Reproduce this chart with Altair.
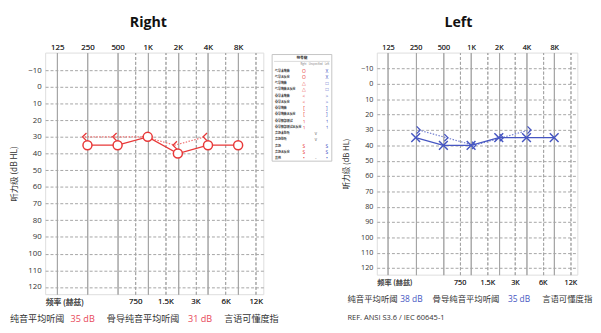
import altair as alt
import pandas as pd

# ---------------- data ----------------
FREQS = [250, 500, 1000, 2000, 4000, 8000]
BONE_FREQS = [250, 500, 1000, 2000, 4000]
RIGHT_AC = [35, 35, 30, 40, 35, 35]
RIGHT_BC = [30, 30, 30, 35, 30]
LEFT_AC = [35, 40, 40, 35, 35, 35]
LEFT_BC = [30, 35, 40, 35, 30]

TOP_TICKS = [125, 250, 500, 1000, 2000, 4000, 8000]
BOTTOM_TICKS = [750, 1500, 3000, 6000, 12000]
DB_TICKS = list(range(-10, 121, 10))

RIGHT_SUMMARY = ["纯音平均听阈", "35 dB", "骨导纯音平均听阈", "31 dB", "言语可懂度指"]
LEFT_SUMMARY = ["纯音平均听阈", "38 dB", "骨导纯音平均听阈", "35 dB", "言语可懂度指"]
REF_TEXT = "REF. ANSI S3.6 / IEC 60645-1"

LEGEND_TITLE = "符号键"
LEGEND_HEADS = ["Right", "Unspecified", "Left"]
LEGEND_LABELS = ["气导未掩蔽", "气导无反应", "气导掩蔽", "气导掩蔽无反应", "骨导未掩蔽",
                 "骨导无反应", "骨导掩蔽", "骨导掩蔽无反应", "骨导额部测试",
                 "骨导额部测试无反应", "声场未助听", "声场助听", "声场", "声场无反应", "其他"]
LEGEND_RIGHT = ["O", "O", "△", "△", "<", "<", "[", "[", "˥", "˥", "", "", "S", "S", "•"]
LEGEND_MID = ["", "", "", "", "", "", "", "", "", "", "∨", "∨", "", "", "-"]
LEGEND_LEFT = ["X", "X", "□", "□", ">", ">", "]", "]", "˦", "˦", "", "", "S", "S", "•"]

# ---------------- styles ----------------
CJK = "Noto Sans CJK SC"
LAT = "Open Sans"
RED = "#e83838"
RED_TXT = "#e8485a"
RED_DOT = "#ee6e6e"
BLUE = "#4656c2"
BLUE_DOT = "#7480d0"
GRID = "#a4a4a4"

X_PATH = "M-1,-1L1,1M-1,1L1,-1"
LT_PATH = "M0,-1L-1,0L0,1"
GT_PATH = "M0,-1L1,0L0,1"

LBL = "datum.value >= 1000 ? (datum.value/1000) + 'K' : '' + datum.value"


def panel(name, ac, bc, color, dotcolor, txtcolor, ac_shape, ac_fill, bc_shape, bc_off,
          w, h, s, summary, sx, sy, title_dx, extra=None):
    xs = alt.Scale(type="log", domain=[94.5, 14280], nice=False)
    ys = alt.Scale(domain=[-20.5, 124.3], reverse=True, nice=False, zero=False)
    top_axis = alt.Axis(orient="top", values=TOP_TICKS, labelExpr=LBL, ticks=False, domain=False,
                        grid=True, gridColor=GRID, gridWidth=1, labelPadding=1,
                        labelFontSize=8 * s, labelFont=LAT, labelColor="#333", title=None)
    bot_axis = alt.Axis(orient="bottom", values=BOTTOM_TICKS, labelExpr=LBL, ticks=False,
                        domain=False, grid=True, gridColor=GRID, gridDash=[3, 2], gridWidth=1,
                        labelPadding=4, labelFontSize=8 * s, labelFont=LAT, labelColor="#333",
                        title="频率 (赫兹)", titleX=0, titleY=9 * s, titleAlign="left",
                        titleBaseline="middle", titleFontWeight="normal", titleFont=CJK,
                        titleFontSize=8 * s, titleColor="#444")
    y_axis = alt.Axis(values=DB_TICKS, ticks=False, domain=False, grid=True, gridDash=[3, 2],
                      gridColor=GRID, gridWidth=1, labelPadding=4, labelFontSize=8 * s,
                      labelFont=LAT, labelColor="#333", title="听力级 (dB HL)", titlePadding=10,
                      titleFont=CJK, titleFontSize=8.5 * s, titleFontWeight="normal",
                      titleColor="#333")

    df_ac = pd.DataFrame({"freq": FREQS, "db": ac})
    df_bc = pd.DataFrame({"freq": BONE_FREQS, "db": bc})

    def yy():
        return alt.Y("db:Q", scale=ys, axis=y_axis)

    bc_line = alt.Chart(df_bc).mark_line(color=dotcolor, strokeWidth=1.2, strokeDash=[1.5, 1.5],
                                         xOffset=bc_off * 3).encode(
        x=alt.X("freq:Q", scale=xs, axis=top_axis), y=yy())
    ac_line = alt.Chart(df_ac).mark_line(color=color, strokeWidth=1.3).encode(
        x=alt.X("freq:Q", scale=xs, axis=bot_axis), y=yy())
    bc_pts = alt.Chart(df_bc).mark_point(shape=bc_shape, size=64 * s * s, stroke=color,
                                         strokeWidth=1.3, fill=None, opacity=1,
                                         xOffset=bc_off).encode(
        x=alt.X("freq:Q", scale=xs, axis=top_axis), y=yy())
    ac_pts = alt.Chart(df_ac).mark_point(shape=ac_shape, size=(85 if ac_fill else 95) * s * s,
                                         stroke=color, strokeWidth=1.5,
                                         fill="white" if ac_fill else None,
                                         fillOpacity=1, opacity=1).encode(
        x=alt.X("freq:Q", scale=xs, axis=bot_axis), y=yy())

    layers = [bc_line, ac_line, bc_pts, ac_pts]
    colors = ["#333", txtcolor, "#333", txtcolor, "#333"]
    fonts = [CJK, LAT, CJK, LAT, CJK]
    for txt, xv, col, fnt in zip(summary, sx, colors, fonts):
        layers.append(alt.Chart(pd.DataFrame({"t": [txt]})).mark_text(
            align="left", baseline="middle", fontSize=9.3 * s, color=col, font=fnt).encode(
            text="t:N", x=alt.value(xv), y=alt.value(h + sy)))
    if extra is not None:
        layers.append(alt.Chart(pd.DataFrame({"t": [extra]})).mark_text(
            align="left", baseline="middle", fontSize=8.3 * s, color="#333", font=LAT).encode(
            text="t:N", x=alt.value(sx[0]), y=alt.value(h + sy + 21 * s)))

    return alt.layer(*layers).properties(
        width=w, height=h,
        title=alt.Title(name, font=LAT, fontSize=14.5, fontWeight="bold", color="#111",
                        anchor="middle", dx=title_dx, offset=14))


right = panel("Right", RIGHT_AC, RIGHT_BC, RED, RED_DOT, RED_TXT, "circle", True, LT_PATH, -1,
              223, 247, 1.0, RIGHT_SUMMARY, [-36, 26, 63, 146, 183], 25.7, -6)
left = panel("Left", LEFT_AC, LEFT_BC, BLUE, BLUE_DOT, BLUE, X_PATH, False, GT_PATH, 1,
             205, 227, 0.92, LEFT_SUMMARY, [-30, 24, 57, 134, 169], 24.7, -19, REF_TEXT)

# ---------------- symbol key box ----------------
leg_df = pd.DataFrame({"idx": list(range(1, len(LEGEND_LABELS) + 1)), "label": LEGEND_LABELS,
                       "r": LEGEND_RIGHT, "m": LEGEND_MID, "l": LEGEND_LEFT})
ly = alt.Scale(domain=[-1.9, 15.5], reverse=True, nice=False, zero=False)
head_df = pd.DataFrame({"idx": [0, 0, 0], "t": LEGEND_HEADS})
title_df = pd.DataFrame({"idx": [-1], "t": [LEGEND_TITLE]})

box = alt.Chart(title_df).mark_rect(fill="white", stroke="#c4c4c4", strokeWidth=1).encode(
    x=alt.value(0), x2=alt.value(61), y=alt.value(2), y2=alt.value(111))
sep = alt.Chart(title_df).mark_rule(stroke="#d0d0d0", strokeWidth=0.8).encode(
    x=alt.value(2), x2=alt.value(59), y=alt.value(9))
leg_layers = [
    box, sep,
    alt.Chart(title_df).mark_text(fontSize=3.8, font=CJK, color="#333", align="center",
                                  fontWeight="bold").encode(
        text="t:N", x=alt.value(30.5), y=alt.Y("idx:Q", scale=ly, axis=None)),
]
for i, xv in enumerate([32, 44.5, 56]):
    leg_layers.append(alt.Chart(head_df.iloc[[i]]).mark_text(
        fontSize=2.6, font=LAT, color="#777", align="center").encode(
        text="t:N", x=alt.value(xv), y=alt.Y("idx:Q", scale=ly, axis=None)))
leg_layers.append(alt.Chart(leg_df).mark_text(fontSize=3.0, font=CJK, color="#333", align="left",
                                              fontWeight="bold").encode(
    text="label:N", x=alt.value(3), y=alt.Y("idx:Q", scale=ly, axis=None)))
leg_layers.append(alt.Chart(leg_df).mark_text(fontSize=5, font=LAT, color=RED).encode(
    text="r:N", x=alt.value(32.5), y=alt.Y("idx:Q", scale=ly, axis=None)))
leg_layers.append(alt.Chart(leg_df).mark_text(fontSize=5, font=LAT, color="#888").encode(
    text="m:N", x=alt.value(44.5), y=alt.Y("idx:Q", scale=ly, axis=None)))
leg_layers.append(alt.Chart(leg_df).mark_text(fontSize=5, font=LAT, color=BLUE).encode(
    text="l:N", x=alt.value(56), y=alt.Y("idx:Q", scale=ly, axis=None)))
legend = alt.layer(*leg_layers).properties(
    width=98, height=111, view=alt.ViewBackground(stroke="transparent"))

chart = alt.hconcat(right, legend, left, spacing=9, bounds="flush").properties(
    padding={"left": 0, "top": 3, "right": 0, "bottom": 0}
).configure_view(stroke="#a0a0a0", strokeWidth=1).configure(background="white")

chart.save("out.html", embed_options={"renderer": "svg", "actions": False})
